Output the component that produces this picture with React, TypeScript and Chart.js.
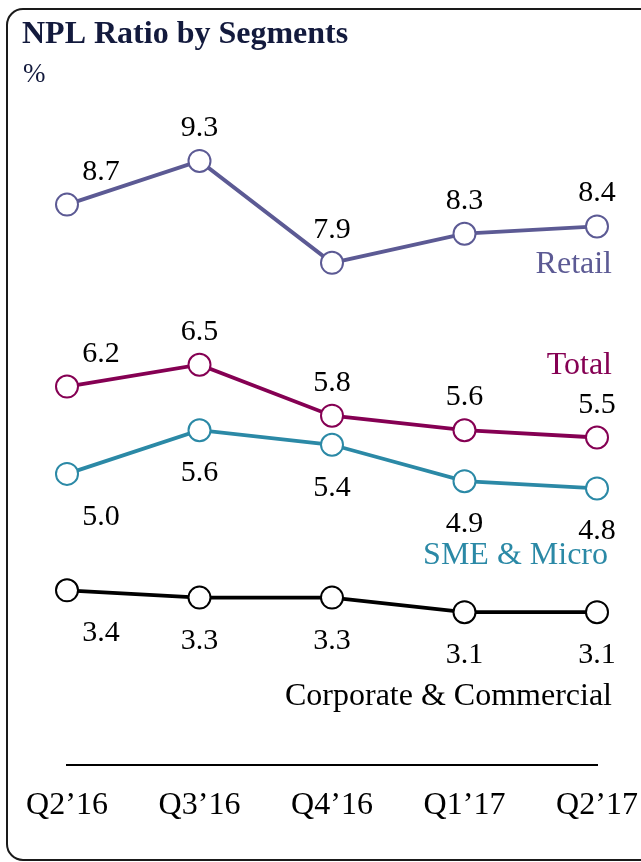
import React, { useEffect, useRef } from "react";
import { Chart, registerables } from "chart.js";

Chart.register(...registerables);

const quarters = ["Q2\u201916", "Q3\u201916", "Q4\u201916", "Q1\u201917", "Q2\u201917"];
const retail = [8.7, 9.3, 7.9, 8.3, 8.4];
const total = [6.2, 6.5, 5.8, 5.6, 5.5];
const smeMicro = [5.0, 5.6, 5.4, 4.9, 4.8];
const corporate = [3.4, 3.3, 3.3, 3.1, 3.1];
const seriesNames = ["Retail", "Total", "SME & Micro", "Corporate & Commercial"];
const titleText = "NPL Ratio by Segments";
const unitText = "%";

const COLORS = ["#5c5a94", "#850053", "#2b89a6", "#000000"];
const SERIF = "'Liberation Serif', 'Times New Roman', serif";

// label placement per series: value labels above (-1) or below (+1), and name offsets
const valuePlacement = [-1, -1, 1, 1];
const nameOffsetY = [36, -75, 65, 82];
const nameOffsetX = [15, 15, 11, 15];

const framePlugin = {
  id: "frame",
  beforeDraw(chart: any) {
    const ctx = chart.ctx;
    ctx.save();
    ctx.fillStyle = "#ffffff";
    ctx.fillRect(0, 0, chart.width, chart.height);
    const x = 7, y = 9, r = 16;
    ctx.beginPath();
    ctx.moveTo(x + 700, y);
    ctx.lineTo(x + r, y);
    ctx.arcTo(x, y, x, y + r, r);
    ctx.lineTo(x, 844);
    ctx.arcTo(x, 860, x + r, 860, r);
    ctx.lineTo(x + 700, 860);
    ctx.lineWidth = 2;
    ctx.strokeStyle = "#1a1a1a";
    ctx.stroke();
    // title
    ctx.fillStyle = "#131a3d";
    ctx.textAlign = "left";
    ctx.textBaseline = "alphabetic";
    ctx.font = "bold 32px " + SERIF;
    ctx.fillText(titleText, 22, 43);
    ctx.font = "27px " + SERIF;
    ctx.fillText(unitText, 23, 82);
    ctx.restore();
  },
};

const labelPlugin = {
  id: "valueLabels",
  afterDatasetsDraw(chart: any) {
    const ctx = chart.ctx;
    ctx.save();
    ctx.textBaseline = "alphabetic";
    chart.data.datasets.forEach((ds: any, di: number) => {
      const meta = chart.getDatasetMeta(di);
      ctx.font = "30px " + SERIF;
      ctx.fillStyle = "#000000";
      ctx.textAlign = "center";
      meta.data.forEach((pt: any, i: number) => {
        const dx = i === 0 ? 34 : 0;
        const base = valuePlacement[di] < 0 ? pt.y - 25 : pt.y + 51;
        ctx.fillText(ds.data[i].toFixed(1), pt.x + dx, base);
      });
      const last = meta.data[meta.data.length - 1];
      ctx.font = "32px " + SERIF;
      ctx.fillStyle = COLORS[di];
      ctx.textAlign = "right";
      ctx.fillText(seriesNames[di], last.x + nameOffsetX[di], last.y + nameOffsetY[di] + 11);
    });
    ctx.restore();
  },
};

export default function App() {
  const ref = useRef<HTMLCanvasElement | null>(null);
  useEffect(() => {
    if (!ref.current) return;
    const series = [retail, total, smeMicro, corporate];
    const chart = new Chart(ref.current, {
      type: "line",
      data: {
        labels: quarters,
        datasets: series.map((d, i) => ({
          label: seriesNames[i],
          data: d,
          borderColor: COLORS[i],
          borderWidth: 3.8,
          pointRadius: 11,
          pointBorderWidth: 2,
          pointBackgroundColor: "#ffffff",
          pointBorderColor: COLORS[i],
          tension: 0,
          clip: false as any,
        })),
      },
      options: {
        responsive: false,
        animation: false,
        events: [],
        layout: { padding: { left: 67, right: 44, top: 110, bottom: 0 } },
        plugins: {
          legend: { display: false },
          title: { display: false },
          tooltip: { enabled: false },
        },
        scales: {
          x: {
            type: "category",
            offset: false,
            grid: { display: false, drawTicks: false },
            border: { display: true, color: "#000000", width: 2 },
            ticks: {
              color: "#000000",
              font: { family: SERIF, size: 32 },
              padding: 21,
              maxRotation: 0,
              autoSkip: false,
            },
            afterFit: (axis: any) => {
              axis.height = 97;
              axis.paddingLeft = 0;
              axis.paddingRight = 0;
            },
          },
          y: {
            display: false,
            min: 1,
            max: 10,
          },
        },
      },
      plugins: [framePlugin, labelPlugin],
    });
    return () => chart.destroy();
  }, []);
  return (
    <div style={{ position: "absolute", left: 0, top: 0, width: 641, height: 862 }}>
      <canvas ref={ref} width={641} height={862} style={{ display: "block" }} />
    </div>
  );
}
